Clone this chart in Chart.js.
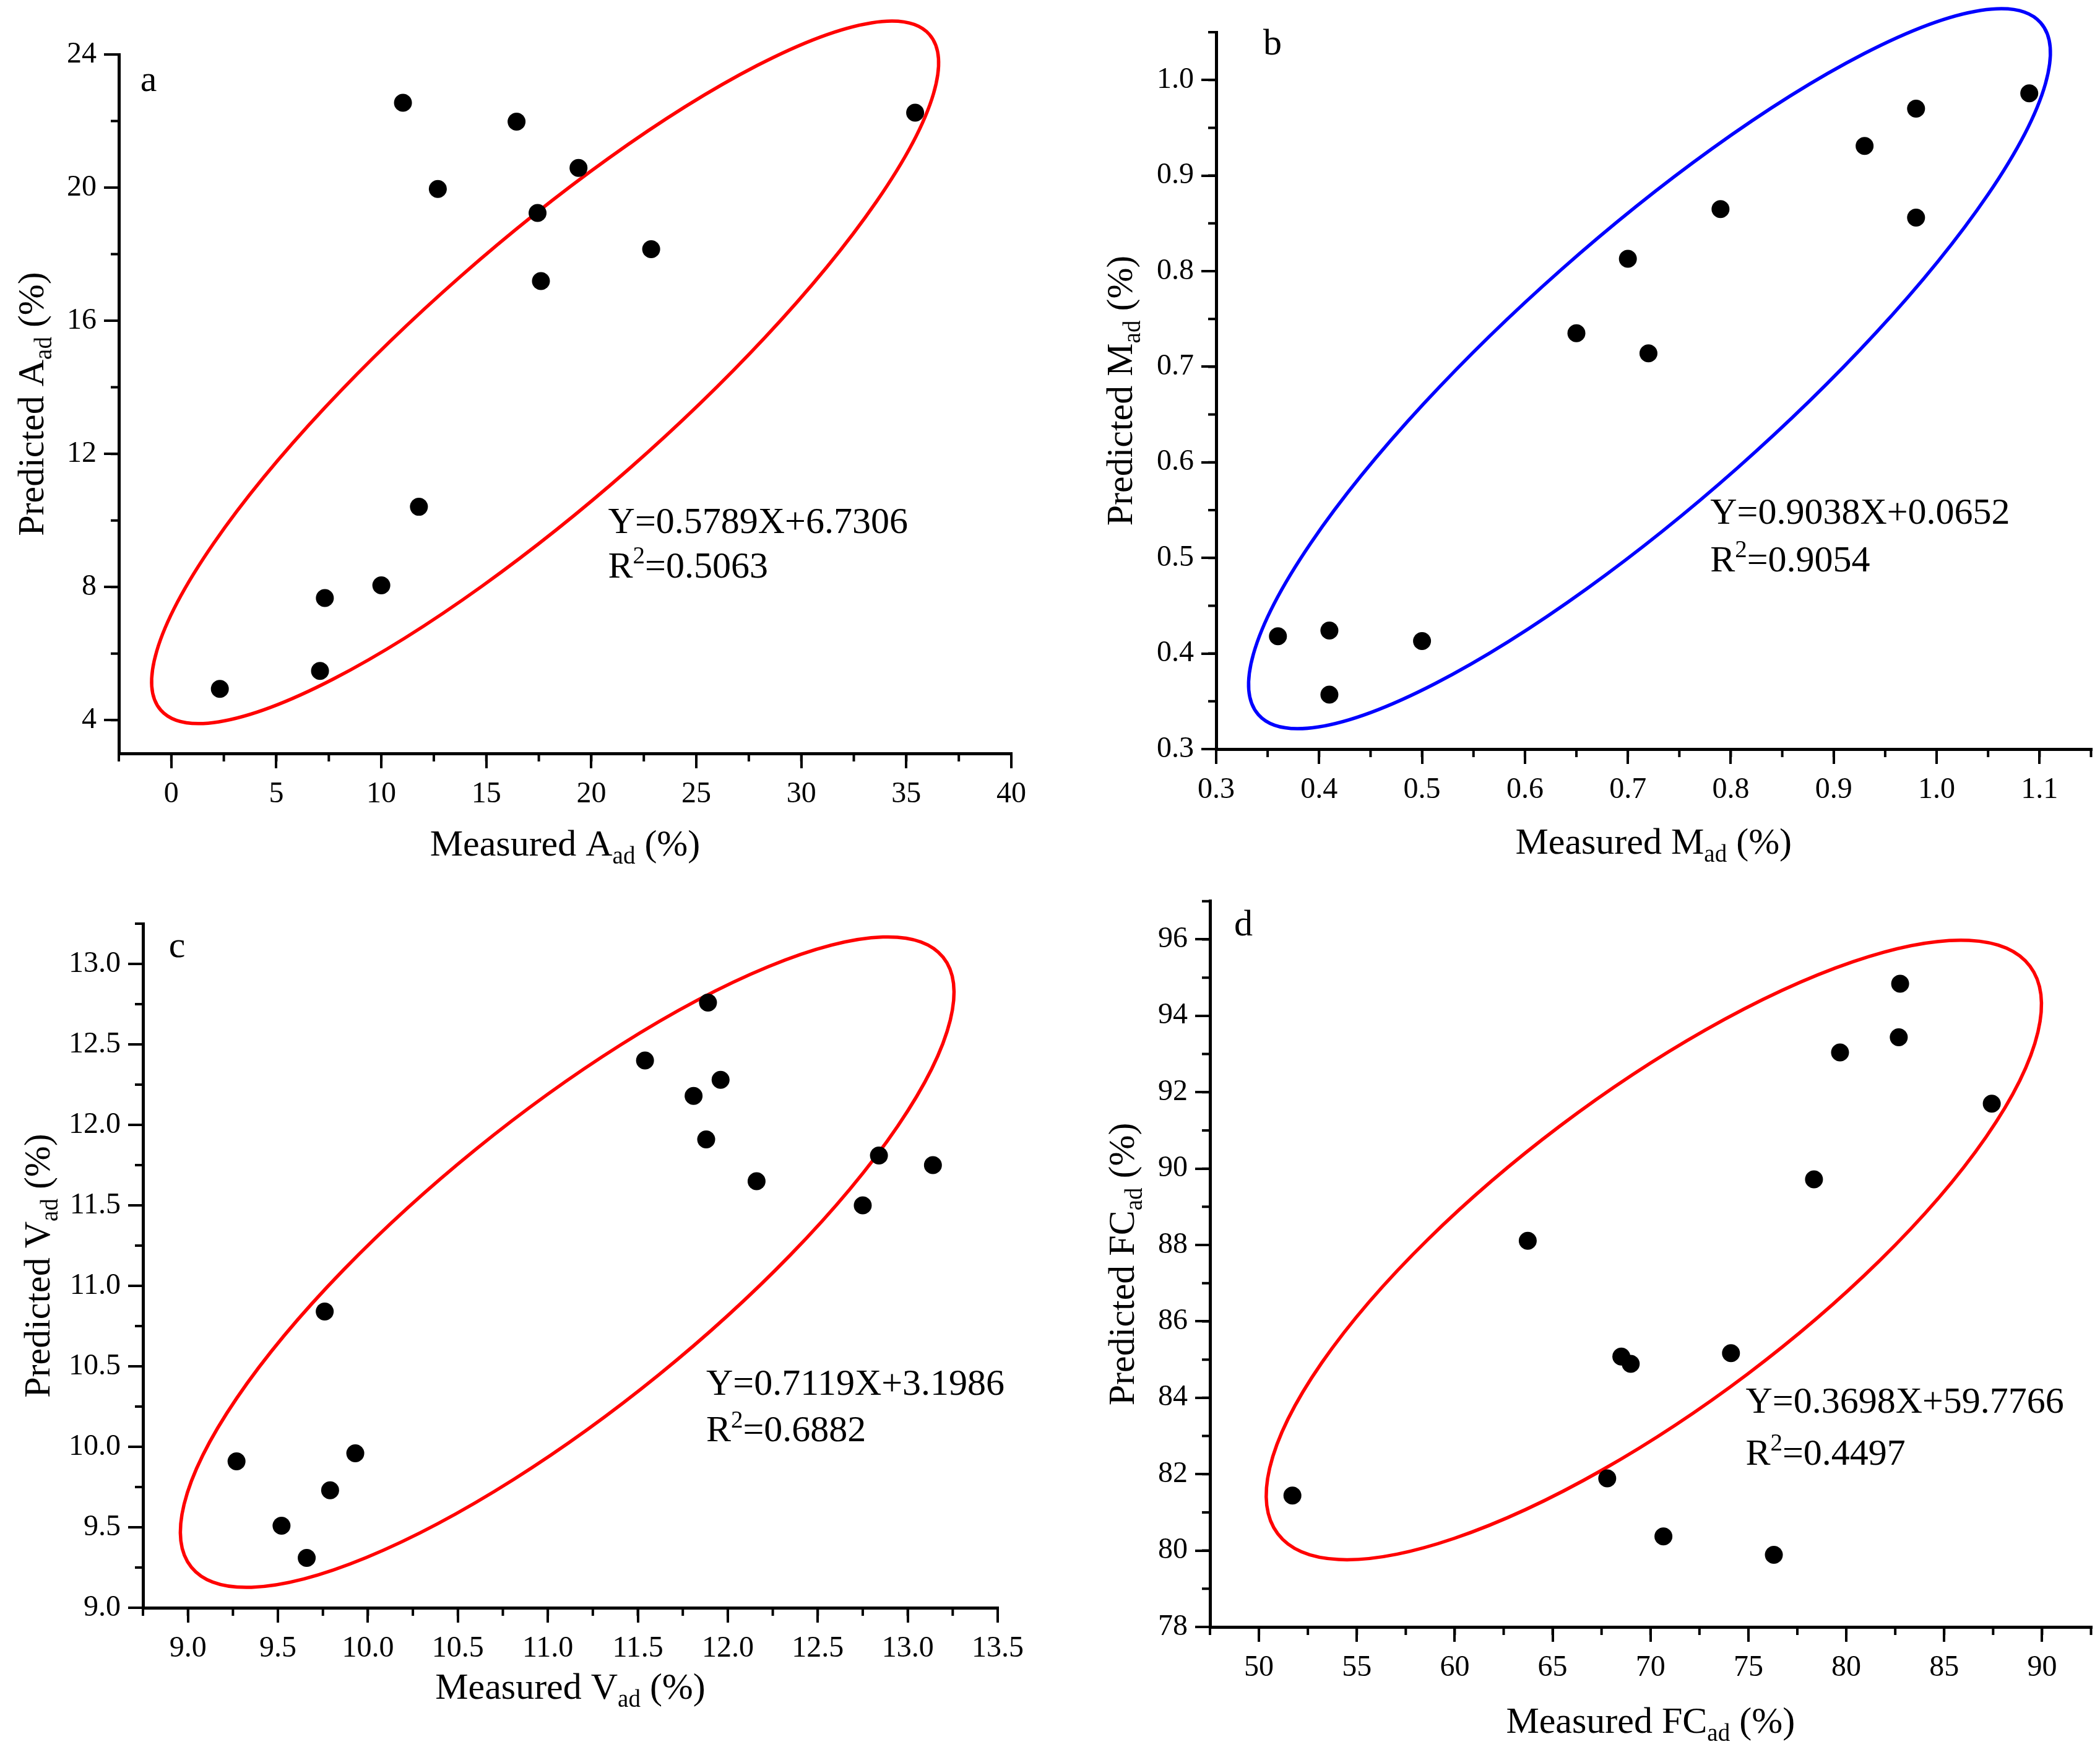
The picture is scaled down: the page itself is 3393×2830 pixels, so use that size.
<!DOCTYPE html>
<html>
<head>
<meta charset="utf-8">
<script src="https://cdn.jsdelivr.net/npm/chart.js@4.4.1/dist/chart.umd.min.js"></script>
<style>
  body { margin: 0; background: #fff; width: 3393px; height: 2830px; position: relative; overflow: hidden; }
  canvas { position: absolute; }
</style>
</head>
<body>
<canvas id="ca" width="1696" height="1415" style="left:0;top:0"></canvas>
<canvas id="cb" width="1697" height="1415" style="left:1696px;top:0"></canvas>
<canvas id="cc" width="1696" height="1415" style="left:0;top:1415px"></canvas>
<canvas id="cd" width="1697" height="1415" style="left:1696px;top:1415px"></canvas>
<script>
// data
const measuredA = [2.31, 7.08, 7.31, 10.0, 11.79, 11.03, 12.69, 16.44, 17.44, 17.6, 19.39, 22.85, 35.42];
const predictedA = [4.94, 5.48, 7.67, 8.05, 10.41, 22.55, 19.96, 21.98, 19.24, 17.19, 20.59, 18.15, 22.25];

const measuredM = [0.36, 0.41, 0.41, 0.50, 0.65, 0.70, 0.72, 0.79, 0.93, 0.98, 0.98, 1.09];
const predictedM = [0.418, 0.424, 0.357, 0.413, 0.735, 0.813, 0.714, 0.865, 0.931, 0.970, 0.856, 0.986];

const measuredV = [9.27, 9.52, 9.66, 9.76, 9.79, 9.93, 11.54, 11.81, 11.89, 11.88, 11.96, 12.16, 12.75, 12.84, 13.14];
const predictedV = [9.91, 9.51, 9.31, 10.84, 9.73, 9.96, 12.40, 12.18, 12.76, 11.91, 12.28, 11.65, 11.50, 11.81, 11.75];

const measuredFC = [51.71, 63.73, 67.79, 68.51, 68.99, 70.66, 74.11, 76.30, 78.35, 79.68, 82.68, 82.75, 87.43];
const predictedFC = [81.44, 88.11, 81.89, 85.08, 84.89, 80.37, 85.17, 79.89, 89.72, 93.04, 93.44, 94.84, 91.70];

// tick labels
const xTicksA = [0, 5, 10, 15, 20, 25, 30, 35, 40];
const yTicksA = [4, 8, 12, 16, 20, 24];
const xTicksM = [0.3, 0.4, 0.5, 0.6, 0.7, 0.8, 0.9, 1.0, 1.1];
const yTicksM = [0.3, 0.4, 0.5, 0.6, 0.7, 0.8, 0.9, 1.0];
const xTicksV = [9.0, 9.5, 10.0, 10.5, 11.0, 11.5, 12.0, 12.5, 13.0, 13.5];
const yTicksV = [9.0, 9.5, 10.0, 10.5, 11.0, 11.5, 12.0, 12.5, 13.0];
const xTicksFC = [50, 55, 60, 65, 70, 75, 80, 85, 90];
const yTicksFC = [78, 80, 82, 84, 86, 88, 90, 92, 94, 96];

// fit equations
const equationA = ['Y=0.5789X+6.7306', '0.5063'];
const equationM = ['Y=0.9038X+0.0652', '0.9054'];
const equationV = ['Y=0.7119X+3.1986', '0.6882'];
const equationFC = ['Y=0.3698X+59.7766', '0.4497'];

const FONT = '"Liberation Serif", "Times New Roman", serif';
Chart.defaults.font.family = FONT;
Chart.defaults.color = '#000';

function drawRich(ctx, segs, x, y, size, align) {
  const parts = segs.map(([t, k]) => {
    const s = k ? size * 0.65 : size;
    ctx.font = s + 'px ' + FONT;
    return { t, k, s, w: ctx.measureText(t).width };
  });
  const total = parts.reduce((a, p) => a + p.w, 0);
  let cx = align === 'center' ? x - total / 2 : x;
  ctx.textAlign = 'left';
  ctx.textBaseline = 'alphabetic';
  for (const p of parts) {
    ctx.font = p.s + 'px ' + FONT;
    const dy = p.k === 'sub' ? size * 0.22 : p.k === 'sup' ? -size * 0.38 : 0;
    ctx.fillText(p.t, cx, y + dy);
    cx += p.w;
  }
}

const extras = {
  id: 'extras',
  beforeDatasetsDraw(chart, args, o) {
    const { x, y } = chart.scales;
    const ctx = chart.ctx;
    const e = o.ellipse;
    const x1 = x.getPixelForValue(e.from[0]), y1 = y.getPixelForValue(e.from[1]);
    const x2 = x.getPixelForValue(e.to[0]), y2 = y.getPixelForValue(e.to[1]);
    const a = Math.hypot(x2 - x1, y2 - y1) / 2;
    ctx.save();
    ctx.strokeStyle = e.color;
    ctx.lineWidth = 5.5;
    ctx.beginPath();
    ctx.ellipse((x1 + x2) / 2, (y1 + y2) / 2, a, a * e.ratio, Math.atan2(y2 - y1, x2 - x1), 0, Math.PI * 2);
    ctx.stroke();
    ctx.restore();
  },
  afterDraw(chart, args, o) {
    const { x, y } = chart.scales;
    const ctx = chart.ctx;
    const ca = chart.chartArea;
    ctx.save();
    ctx.strokeStyle = '#000';
    ctx.fillStyle = '#000';
    ctx.lineWidth = 4;
    // minor ticks
    ctx.beginPath();
    const sx = o.minor[0], sy = o.minor[1];
    for (let i = Math.ceil(x.min / sx - 1e-6); i * sx <= x.max + 1e-6; i++) {
      const px = x.getPixelForValue(i * sx);
      ctx.moveTo(px, ca.bottom);
      ctx.lineTo(px, ca.bottom + 13);
    }
    for (let i = Math.ceil(y.min / sy - 1e-6); i * sy <= y.max + 1e-6; i++) {
      const py = y.getPixelForValue(i * sy);
      ctx.moveTo(ca.left, py);
      ctx.lineTo(ca.left - 13, py);
    }
    ctx.stroke();
    // axis titles
    drawRich(ctx, o.xTitle, (ca.left + ca.right) / 2, ca.bottom + o.titleOffset[0] + 20, 60, 'center');
    ctx.save();
    ctx.translate(ca.left - o.titleOffset[1], (ca.top + ca.bottom) / 2);
    ctx.rotate(-Math.PI / 2);
    drawRich(ctx, o.yTitle, 0, 20, 60, 'center');
    ctx.restore();
    // panel letter
    drawRich(ctx, [[o.letter, '']], ca.left + o.letterAt[0], ca.top + o.letterAt[1] + 20, 60, 'center');
    // equation
    const ex = x.getPixelForValue(o.eqAt[0]);
    drawRich(ctx, [[o.equation[0], '']], ex, y.getPixelForValue(o.eqAt[1]) + 20, 60, 'left');
    drawRich(ctx, [['R', ''], ['2', 'sup'], ['=' + o.equation[1], '']], ex, y.getPixelForValue(o.eqAt[2]) + 20, 60, 'left');
    ctx.restore();
  }
};

function axis(min, max, ticks, decimals, size, isX, pad) {
  return {
    type: 'linear',
    min: min,
    max: max,
    afterBuildTicks: s => { s.ticks = ticks.map(v => ({ value: v })); },
    afterFit: s => { if (isX) s.height = size; else s.width = size; },
    grid: { display: true, drawOnChartArea: false, drawTicks: true, tickLength: 24, color: '#000', lineWidth: 4 },
    border: { display: true, color: '#000', width: 5 },
    ticks: {
      color: '#000',
      padding: pad,
      font: { family: FONT, size: 48 },
      callback: v => v.toFixed(decimals)
    }
  };
}

function makePanel(id, mx, my, p) {
  return new Chart(document.getElementById(id), {
    type: 'scatter',
    data: {
      datasets: [{
        data: mx.map((v, i) => ({ x: v, y: my[i] })),
        backgroundColor: '#000',
        borderWidth: 0,
        pointRadius: 14.5,
        pointHoverRadius: 14.5
      }]
    },
    options: {
      responsive: false,
      animation: false,
      devicePixelRatio: 1,
      layout: { padding: { top: p.padTop, right: p.padRight, left: 0, bottom: 0 } },
      plugins: {
        legend: { display: false },
        tooltip: { enabled: false },
        extras: p.extras
      },
      scales: {
        x: axis(p.x[0], p.x[1], p.xTicks, p.dec, p.xHeight, true, 14),
        y: axis(p.y[0], p.y[1], p.yTicks, p.dec, p.yWidth, false, 12)
      }
    },
    plugins: [extras]
  });
}

makePanel('ca', measuredA, predictedA, {
  x: [-2.5, 40], y: [3, 24], xTicks: xTicksA, yTicks: yTicksA, dec: 0,
  padTop: 88, padRight: 62, xHeight: 198, yWidth: 192,
  extras: {
    ellipse: { from: [-0.5, 4.3], to: [36.1, 24.6], ratio: 0.25, color: '#ff0000' },
    minor: [2.5, 2],
    xTitle: [['Measured A', ''], ['ad', 'sub'], [' (%)', '']],
    yTitle: [['Predicted A', ''], ['ad', 'sub'], [' (%)', '']],
    titleOffset: [145, 142],
    letter: 'a', letterAt: [48, 39],
    equation: equationA, eqAt: [20.8, 10.0, 8.65]
  }
});

makePanel('cb', measuredM, predictedM, {
  x: [0.3, 1.15], y: [0.3, 1.05], xTicks: xTicksM, yTicks: yTicksM, dec: 1,
  padTop: 52, padRight: 13, xHeight: 205, yWidth: 269,
  extras: {
    ellipse: { from: [0.341, 0.336], to: [1.101, 1.060], ratio: 0.254, color: '#0000ff' },
    minor: [0.05, 0.05],
    xTitle: [['Measured M', ''], ['ad', 'sub'], [' (%)', '']],
    yTitle: [['Predicted M', ''], ['ad', 'sub'], [' (%)', '']],
    titleOffset: [149, 156],
    letter: 'b', letterAt: [91, 16],
    equation: equationM, eqAt: [0.78, 0.549, 0.499]
  }
});

makePanel('cc', measuredV, predictedV, {
  x: [8.75, 13.5], y: [9.0, 13.25], xTicks: xTicksV, yTicks: yTicksV, dec: 1,
  padTop: 77, padRight: 84, xHeight: 233, yWidth: 231,
  extras: {
    ellipse: { from: [9.019, 9.252], to: [13.196, 13.042], ratio: 0.3, color: '#ff0000' },
    minor: [0.25, 0.25],
    xTitle: [['Measured V', ''], ['ad', 'sub'], [' (%)', '']],
    yTitle: [['Predicted V', ''], ['ad', 'sub'], [' (%)', '']],
    titleOffset: [127, 171],
    letter: 'c', letterAt: [55, 34],
    equation: equationV, eqAt: [11.88, 10.40, 10.11]
  }
});

makePanel('cd', measuredFC, predictedFC, {
  x: [47.5, 92.5], y: [78, 97], xTicks: xTicksFC, yTicks: yTicksFC, dec: 0,
  padTop: 34, padRight: 11, xHeight: 202, yWidth: 259,
  extras: {
    ellipse: { from: [50.96, 80.44], to: [89.38, 95.30], ratio: 0.33, color: '#ff0000' },
    minor: [2.5, 1],
    xTitle: [['Measured FC', ''], ['ad', 'sub'], [' (%)', '']],
    yTitle: [['Predicted FC', ''], ['ad', 'sub'], [' (%)', '']],
    titleOffset: [151, 143],
    letter: 'd', letterAt: [54, 35],
    equation: equationFC, eqAt: [74.86, 83.93, 82.57]
  }
});
</script>
</body>
</html>
